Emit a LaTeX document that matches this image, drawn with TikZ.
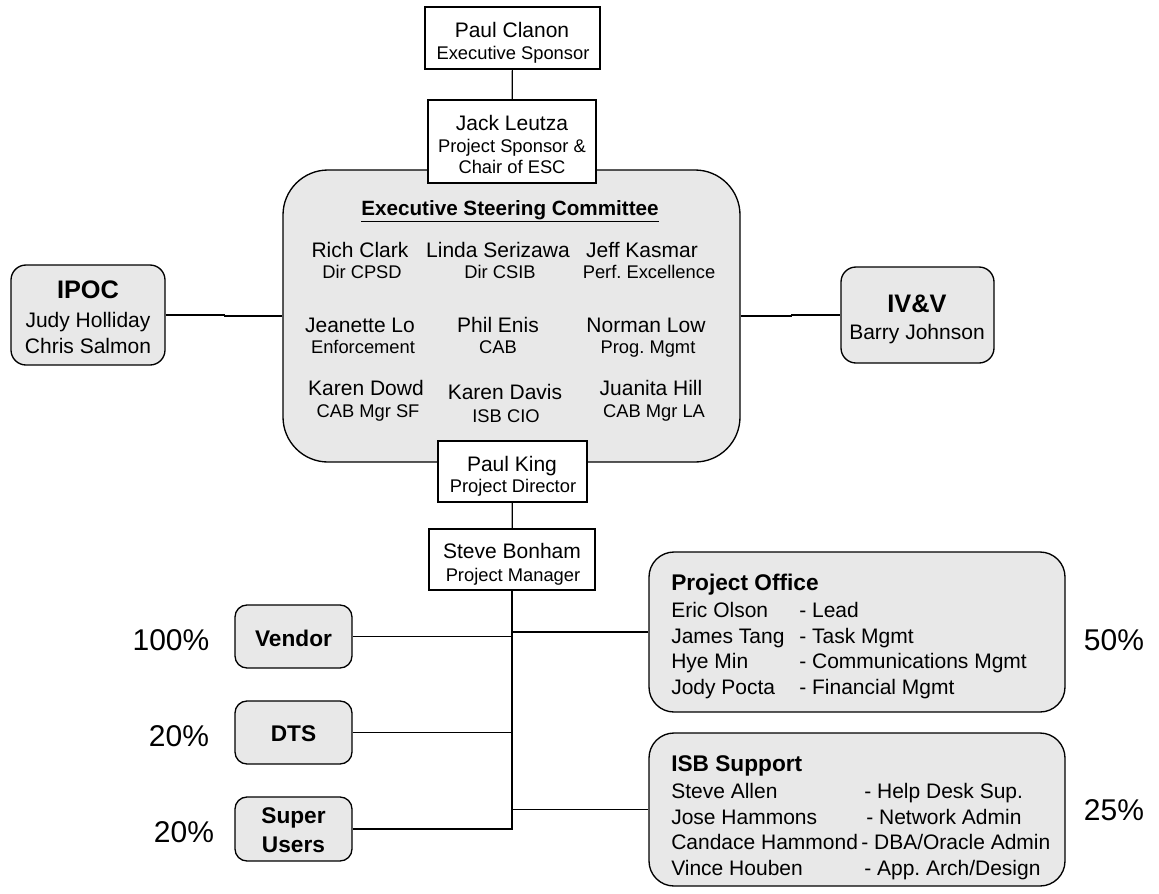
\documentclass[tikz,border=0pt]{standalone}
\usepackage{fontspec}
\setmainfont{Liberation Sans}
\usetikzlibrary{calc}
\definecolor{boxgray}{HTML}{E8E8E8}
\tikzset{
  plainbox/.style={draw=black, fill=white, line width=1pt, inner sep=0pt},
  grpbox/.style={draw=black, fill=boxgray, line width=1pt, inner sep=0pt, rounded corners=#1},
  nm/.style={anchor=base, inner sep=0pt, font=\fontsize{15.75}{18}\selectfont},
  subt/.style={anchor=base, inner sep=0pt, font=\fontsize{13.75}{16}\selectfont},
  hd/.style={anchor=base, inner sep=0pt, font=\fontsize{17}{20}\selectfont\bfseries},
  bighd/.style={anchor=base, inner sep=0pt, font=\fontsize{19}{22}\selectfont\bfseries},
  pct/.style={anchor=base, inner sep=0pt, font=\fontsize{22.5}{26}\selectfont},
  lt/.style={anchor=base west, inner sep=0pt, font=\fontsize{15.75}{18}\selectfont},
  lthd/.style={anchor=base west, inner sep=0pt, font=\fontsize{17}{20}\selectfont\bfseries},
  conn/.style={draw=black, line width=0.9pt},
}
\frenchspacing
\begin{document}
\begin{tikzpicture}[x=0.75pt,y=-0.75pt]
\useasboundingbox (0,0) rectangle (1159,893);

% Executive Steering Committee
\node[grpbox=33.75pt, minimum width=342.75pt, minimum height=219pt] (esc) at (511.5,316) {};

% Top boxes
\node[plainbox, minimum width=131.25pt, minimum height=46.5pt] (pc) at (512.5,38) {};
\node[plainbox, minimum width=126pt, minimum height=62.25pt] (jl) at (512,141.5) {};
\draw[conn] (pc) -- (jl);

% Side boxes
\node[grpbox=11.25pt, minimum width=115.5pt, minimum height=75pt] (ipoc) at (88,315) {};
\node[grpbox=11.25pt, minimum width=114.75pt, minimum height=72pt] (ivv) at (917.5,315) {};
\draw[conn] (ipoc.east) -- ++(59,0) |- (esc.west);
\draw[conn] (esc.east) -- ++(51,0) |- (ivv.west);

% Director and manager
\node[plainbox, minimum width=111.75pt, minimum height=45.75pt] (pk) at (512.5,471.5) {};
\node[plainbox, minimum width=124.5pt, minimum height=45.75pt] (sbm) at (512,559.5) {};
\draw[conn] (pk) -- (sbm);

% Lower groups
\node[grpbox=9pt, minimum width=87.75pt, minimum height=47.25pt] (vendor) at (293.5,636.5) {};
\node[grpbox=9pt, minimum width=87.75pt, minimum height=47.25pt] (dts) at (293.5,732.5) {};
\node[grpbox=9pt, minimum width=87.75pt, minimum height=48pt] (su) at (293.5,829) {};
\node[grpbox=18.75pt, minimum width=312pt, minimum height=120pt] (po) at (857,632) {};
\node[grpbox=18.75pt, minimum width=312pt, minimum height=114.75pt] (isb) at (857,809.5) {};

\draw[conn] (sbm.south) -- (sbm.south |- su.east) -- (su.east);
\draw[conn] (vendor.east) -- (vendor.east -| sbm.south);
\draw[conn] (dts.east) -- (dts.east -| sbm.south);
\draw[conn] (po.west) -- (po.west -| sbm.south);
\draw[conn] (isb.west) -- (isb.west -| sbm.south);

% Texts: top
\node[nm] (t-pc1) at (512,37) {Paul Clanon};
\node[subt] (t-pc2) at (513,59) {Executive Sponsor};
\node[nm] (t-jl1) at (512,130) {Jack Leutza};
\node[subt] (t-jl2) at (512,152) {Project Sponsor \&};
\node[subt] (t-jl3) at (512,173) {Chair of ESC};

% ESC
\node[anchor=base, inner sep=0pt, font=\fontsize{15.5}{18}\selectfont\bfseries] (t-esc) at (510,215) {\underline{Executive Steering Committee}};
\node[nm] (m11) at (360,257) {Rich Clark};
\node[nm] (m12) at (498,257) {Linda Serizawa};
\node[nm] (m13) at (642,257) {Jeff Kasmar};
\node[subt] (s11) at (362,278) {Dir CPSD};
\node[subt] (s12) at (500,278) {Dir CSIB};
\node[subt] (s13) at (649,278) {Perf. Excellence};
\node[nm] (m21) at (360,332) {Jeanette Lo};
\node[nm] (m22) at (498,332) {Phil Enis};
\node[nm] (m23) at (646,332) {Norman Low};
\node[subt] (s21) at (363,353) {Enforcement};
\node[subt] (s22) at (498,353) {CAB};
\node[subt] (s23) at (648,353) {Prog. Mgmt};
\node[nm] (m31) at (366,395) {Karen Dowd};
\node[nm] (m32) at (505,399) {Karen Davis};
\node[nm] (m33) at (651,395) {Juanita Hill};
\node[subt] (s31) at (368,417) {CAB Mgr SF};
\node[subt] (s32) at (506,422) {ISB CIO};
\node[subt] (s33) at (654,417) {CAB Mgr LA};

% IPOC / IV&V
\node[bighd] (t-ipoc) at (88,298) {IPOC};
\node[nm] (t-ipoc2) at (88,327) {Judy Holliday};
\node[nm] (t-ipoc3) at (88,353) {Chris Salmon};
\node[bighd] (t-ivv) at (917,312) {IV\&V};
\node[nm] (t-ivv2) at (917,339) {Barry Johnson};

% Director / manager
\node[nm] (t-pk1) at (512,471) {Paul King};
\node[subt] (t-pk2) at (513,492) {Project Director};
\node[nm] (t-sb1) at (512,558) {Steve Bonham};
\node[subt] (t-sb2) at (513,581) {Project Manager};

% Left groups
\node[hd] (t-vendor) at (293.5,646) {Vendor};
\node[hd] (t-dts) at (293.5,741) {DTS};
\node[hd] (t-su1) at (293.5,823) {Super};
\node[hd] (t-su2) at (293.5,852) {Users};
\node[pct] (p1) at (171,650) {100\%};
\node[pct] (p2) at (179,746) {20\%};
\node[pct] (p3) at (184,842) {20\%};

% Project Office
\node[lthd] (t-po) at (671,590) {Project Office};
\node[lt] (po1) at (671,617) {Eric Olson};
\node[lt] (po2) at (671,643) {James Tang};
\node[lt] (po3) at (671,668) {Hye Min};
\node[lt] (po4) at (671,694) {Jody Pocta};
\node[lt] (pr1) at (799,617) {- Lead};
\node[lt] (pr2) at (799,643) {- Task Mgmt};
\node[lt] (pr3) at (799,668) {- Communications Mgmt};
\node[lt] (pr4) at (799,694) {- Financial Mgmt};
\node[pct] (p4) at (1114,650) {50\%};

% ISB Support
\node[lthd] (t-isb) at (671,771) {ISB Support};
\node[lt] (is1) at (671,798) {Steve Allen};
\node[lt] (is2) at (671,824) {Jose Hammons};
\node[lt] (is3) at (671,849) {Candace Hammond};
\node[lt] (is4) at (671,875) {Vince Houben};
\node[lt] (ir1) at (864,798) {- Help Desk Sup.};
\node[lt] (ir2) at (866,824) {- Network Admin};
\node[lt] (ir3) at (861,849) {- DBA/Oracle Admin};
\node[lt] (ir4) at (864,875) {- App. Arch/Design};
\node[pct] (p5) at (1114,820) {25\%};
\end{tikzpicture}
\end{document}
